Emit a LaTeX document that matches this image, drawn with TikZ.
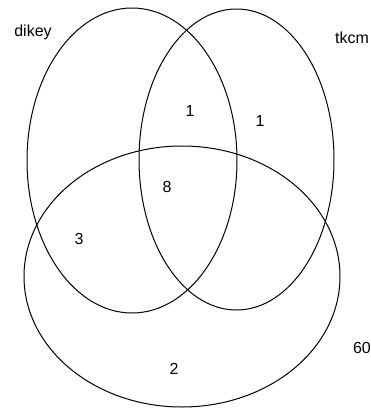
\documentclass[tikz,border=0pt]{standalone}
\usepackage{fontspec}
\setmainfont{Liberation Sans}
\usetikzlibrary{shapes.geometric}
\begin{document}
\begin{tikzpicture}[x=1pt,y=-1pt,
  setshape/.style={draw, ellipse, inner sep=0pt, line width=1pt},
  lbl/.style={inner sep=0pt, font=\fontsize{16}{18}\selectfont}]
\useasboundingbox (0,0) rectangle (371,408);
\node[setshape, minimum width=210pt, minimum height=305pt] (dikeyset) at (132,160.5) {};
\node[setshape, minimum width=195pt, minimum height=301pt] (tkcmset) at (236.5,159.5) {};
\node[setshape, minimum width=316pt, minimum height=261pt] (thirdset) at (182,276.5) {};
\node[lbl] (ldikey) at (33,32) {dikey};
\node[lbl, anchor=west] (ltkcm) at (335,38) {tkcm};
\node[lbl] (l1a) at (190,111) {1};
\node[lbl] (l1b) at (260,121) {1};
\node[lbl] (l8) at (167,187) {8};
\node[lbl] (l3) at (79,239) {3};
\node[lbl] (l2) at (174,369) {2};
\node[lbl] (l60) at (362,348) {60};
\end{tikzpicture}
\end{document}
